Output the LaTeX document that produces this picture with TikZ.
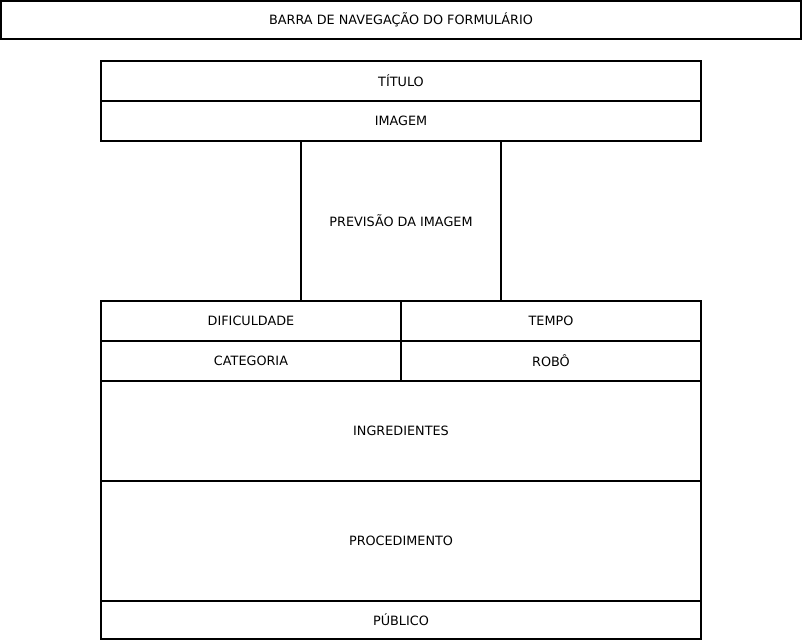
\documentclass[tikz,border=0pt]{standalone}
\usepackage{fontspec}
\setmainfont{DejaVu Sans}
\usepackage{tikz}

\tikzset{
	campo/.style={draw,line width=2pt,rectangle,inner sep=0pt,minimum width=600pt,minimum height=40pt,font=\fontsize{12.8}{15}\selectfont},
	metade/.style={campo,minimum width=300pt}
}

\begin{document}
\begin{tikzpicture}[x=1pt,y=-1pt]
	\useasboundingbox (0,0) rectangle (803,641);
	\node (barra) [campo,minimum width=800pt,minimum height=38pt] at (401,20) {BARRA DE NAVEGAÇÃO DO FORMULÁRIO};
	\node (titulo) [campo] at (401,81) {TÍTULO};
	\node (imagem) [campo,node distance=40pt,below of=titulo] {IMAGEM};
	\node (previsao) [campo,minimum width=200pt,minimum height=160pt] at (401,221) {PREVISÃO DA IMAGEM};
	\node (dificuldade) [metade] at (251,321) {DIFICULDADE};
	\node (tempo) [metade,node distance=300pt,right of=dificuldade] {TEMPO};
	\node (categoria) [metade,node distance=40pt,below of=dificuldade] {CATEGORIA};
	\node (robo) [metade,node distance=40pt,below of=tempo] {ROBÔ};
	\node (ingredientes) [campo,minimum height=100pt] at (401,431) {INGREDIENTES};
	\node (procedimento) [campo,minimum height=120pt] at (401,541) {PROCEDIMENTO};
	\node (publico) [campo,minimum height=38pt] at (401,620) {PÚBLICO};
\end{tikzpicture}
\end{document}
